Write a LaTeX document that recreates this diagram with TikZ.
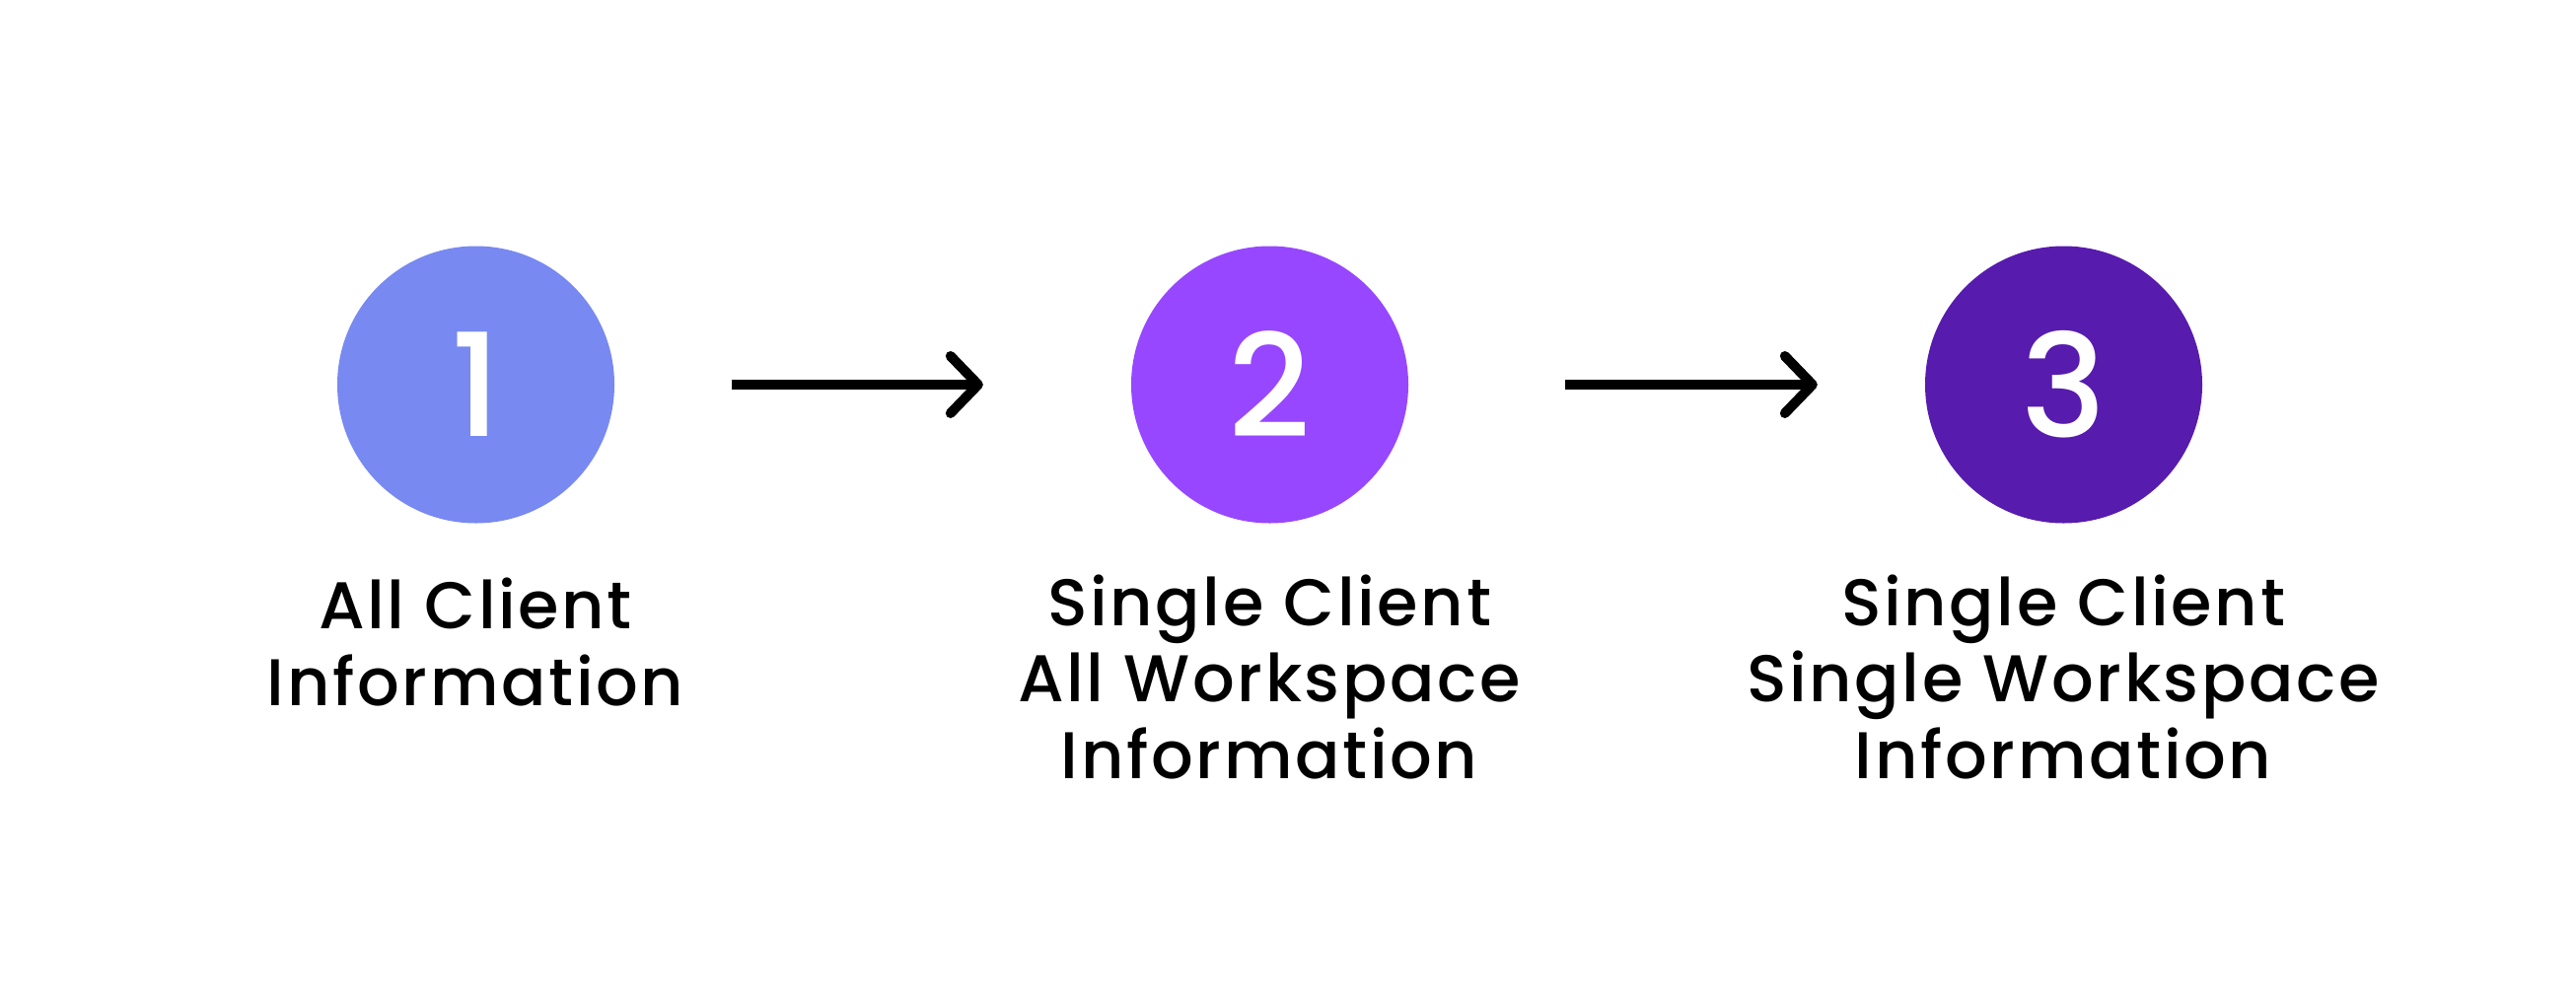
\documentclass[tikz,border=0pt]{standalone}
\usepackage{fontspec}
\setmainfont{Poppins}
\newfontfamily\labelfont{Poppins Medium}[LetterSpace=4]
\newfontfamily\numfont{Poppins Medium}
\usetikzlibrary{arrows.meta}
\definecolor{cone}{HTML}{7889F1}
\definecolor{ctwo}{HTML}{9747FF}
\definecolor{cthree}{HTML}{571BAE}
\tikzset{
  stepcircle/.style={circle, inner sep=0pt, minimum size=281pt, text=white,
    font=\numfont\fontsize{145}{145}\selectfont},
  lbl/.style={inner sep=0pt, align=center, anchor=base,
    font=\labelfont\fontsize{67}{77.5}\selectfont},
  arr/.style={line width=10pt, -{Straight Barb[length=28pt,width=58pt,round]}}
}
\begin{document}
\begin{tikzpicture}[x=1pt,y=-1pt]
\useasboundingbox (0,0) rectangle (2612,1018);
\node[stepcircle, fill=cone] (c1) at (482.5,390) {1};
\node[stepcircle, fill=ctwo] (c2) at (1287.5,390) {2};
\node[stepcircle, fill=cthree] (c3) at (2092.5,390) {3};
% base anchor = baseline of the last line
\node[lbl] (t1) at (482,715) {All Client\\Information};
\node[lbl] (t2) at (1287,789) {Single Client\\All Workspace\\Information};
\node[lbl] (t3) at (2092,789) {Single Client\\Single Workspace\\Information};
\draw[arr, shorten <=118.5pt, shorten >=150pt] (c1.east) -- (c2.west);
\draw[arr, shorten <=158.5pt, shorten >=109pt] (c2.east) -- (c3.west);
\end{tikzpicture}
\end{document}
